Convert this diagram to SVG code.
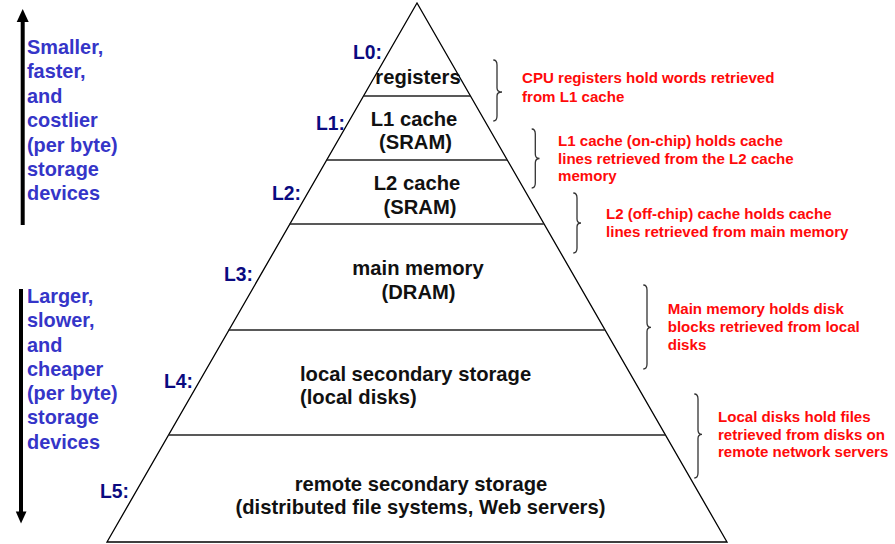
<svg xmlns="http://www.w3.org/2000/svg" width="895" height="544" viewBox="0 0 895 544">
<defs>
<style>
.edge{fill:none;stroke:#000;stroke-width:1.3}
.div{stroke:#222;stroke-width:1.4}
.brace{fill:none;stroke:#333;stroke-width:1.3}
.tier{font-family:"Liberation Sans",Arial,sans-serif;font-weight:bold;font-size:20.2px;fill:#111}
.lvl{font-family:"Liberation Sans",Arial,sans-serif;font-weight:bold;font-size:19.3px;fill:#0a0a80}
.side{font-family:"Liberation Sans",Arial,sans-serif;font-weight:bold;font-size:19.9px;fill:#3535c8}
.note{font-family:"Liberation Sans",Arial,sans-serif;font-weight:bold;font-size:15.1px;fill:#ff0a0a}
.c{text-anchor:middle}
</style>
</defs>
<rect width="895" height="544" fill="#fff"/>

<g id="arrows">
<line x1="22.7" y1="225" x2="22.7" y2="20" stroke="#000" stroke-width="4"/>
<polygon points="22.7,9 16.7,22 28.7,22" fill="#000"/>
<line x1="21" y1="289" x2="21" y2="513" stroke="#000" stroke-width="4"/>
<polygon points="21,523.5 15.8,511.5 26.5,511.5" fill="#000"/>
</g>

<g id="side-top" class="side">
<text x="27" y="54">Smaller,</text>
<text x="27" y="78">faster,</text>
<text x="27" y="102.5">and</text>
<text x="27" y="127">costlier</text>
<text x="27" y="151.5">(per byte)</text>
<text x="27" y="175.5">storage</text>
<text x="27" y="200">devices</text>
</g>
<g id="side-bottom" class="side">
<text x="27" y="303">Larger,</text>
<text x="27" y="327">slower,</text>
<text x="27" y="351.5">and</text>
<text x="27" y="376">cheaper</text>
<text x="27" y="400">(per byte)</text>
<text x="27" y="424">storage</text>
<text x="27" y="448.5">devices</text>
</g>

<g id="pyramid-outline">
<polygon class="edge" points="417,3 107,542 727,542"/>
</g>

<g id="L0">
<text class="lvl" x="353" y="59">L0:</text>
<text class="tier c" x="418" y="84">registers</text>
</g>
<g id="L1">
<line class="div" x1="363.3" y1="96" x2="470" y2="96"/>
<text class="lvl" x="316" y="130">L1:</text>
<text class="tier c" x="414" y="126">L1 cache</text>
<text class="tier c" x="415.5" y="149">(SRAM)</text>
</g>
<g id="L2">
<line class="div" x1="326.5" y1="160" x2="507" y2="160"/>
<text class="lvl" x="272" y="200">L2:</text>
<text class="tier c" x="417" y="190">L2 cache</text>
<text class="tier c" x="420" y="214">(SRAM)</text>
</g>
<g id="L3">
<line class="div" x1="289.6" y1="224" x2="543.8" y2="224"/>
<text class="lvl" x="224" y="281">L3:</text>
<text class="tier c" x="418" y="275">main memory</text>
<text class="tier c" x="418.5" y="298.5">(DRAM)</text>
</g>
<g id="L4">
<line class="div" x1="228.6" y1="330" x2="604.8" y2="330"/>
<text class="lvl" x="164" y="388">L4:</text>
<text class="tier" x="300" y="381">local secondary storage</text>
<text class="tier" x="300" y="404">(local disks)</text>
</g>
<g id="L5">
<line class="div" x1="168" y1="435" x2="665.4" y2="435"/>
<text class="lvl" x="100" y="497.5">L5:</text>
<text class="tier c" x="421" y="491">remote secondary storage</text>
<text class="tier c" x="420.5" y="514">(distributed file systems, Web servers)</text>
</g>

<g id="connectors">
<path class="brace" d="M493.3,60 Q497,60 497,65 L497,88 Q497,92 502,92 Q497,92 497,96 L497,116 Q497,121 493.3,121"/>
<path class="brace" d="M531.7,129 Q535.3,129 535.3,134 L535.3,154 Q535.3,158.5 539.5,158.5 Q535.3,158.5 535.3,163 L535.3,183 Q535.3,188 531.7,188"/>
<path class="brace" d="M573.3,193 Q577,193 577,198 L577,219 Q577,223 581,223 Q577,223 577,227 L577,248 Q577,253 573.3,253"/>
<path class="brace" d="M643.3,285 Q647,285 647,290 L647,323 Q647,327.3 651,327.3 Q647,327.3 647,331.5 L647,364 Q647,369 643.3,369"/>
<path class="brace" d="M694.3,394 Q698,394 698,399 L698,430 Q698,434.3 702,434.3 Q698,434.3 698,438.5 L698,473 Q698,478 694.3,478"/>
</g>

<g id="notes" class="note">
<text x="522" y="83">CPU registers hold words retrieved</text>
<text x="522" y="101.5">from L1 cache</text>
<text x="558" y="146">L1 cache (on-chip) holds cache</text>
<text x="558" y="163.5">lines retrieved from the L2 cache</text>
<text x="558" y="181">memory</text>
<text x="606" y="219">L2 (off-chip) cache holds cache</text>
<text x="606" y="236.7">lines retrieved from main memory</text>
<text x="667.7" y="314">Main memory holds disk</text>
<text x="667.7" y="332">blocks retrieved from local</text>
<text x="667.7" y="349.5">disks</text>
<text x="718" y="422">Local disks hold files</text>
<text x="718" y="439.5">retrieved from disks on</text>
<text x="718" y="457">remote network servers</text>
</g>
</svg>
